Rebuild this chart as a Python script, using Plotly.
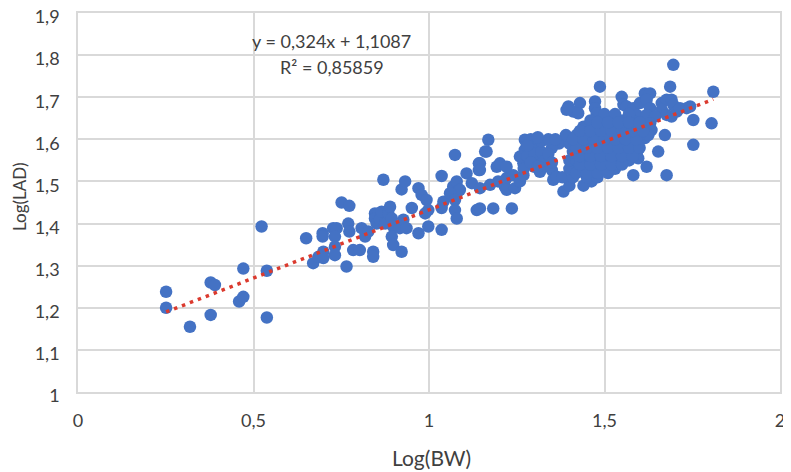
import plotly.graph_objects as go

# ---- data ----
bw = [
    0.251, 0.251, 0.319, 0.378, 0.378, 0.390, 0.459, 0.471, 0.471, 0.523, 0.538, 0.538, 0.650, 0.670,
    0.685, 0.699, 0.699, 0.697, 0.697, 0.727, 0.737, 0.732, 0.732, 0.732, 0.751, 0.773, 0.770, 0.773,
    0.765, 0.784, 0.803, 0.808, 0.818, 0.827, 0.841, 0.841,
    0.846, 0.846, 0.851, 0.860, 0.865, 0.875, 0.884, 0.889, 0.894, 0.898, 0.894, 0.898, 0.922, 0.917,
    0.927, 0.936, 0.951,
    0.870, 0.922, 0.932, 0.970, 0.979, 0.993, 0.998, 0.989, 0.970, 0.998,
    1.036, 1.041, 1.036, 1.036,
    1.069, 1.079, 1.079, 1.088, 1.060, 1.074, 1.074, 1.079, 1.074,
    1.107, 1.122, 1.136, 1.142, 1.142, 1.164, 1.169, 1.183, 1.193,
    1.160, 1.145, 1.236, 1.145, 1.174, 1.197, 1.221, 1.240, 1.216, 1.221, 1.245, 1.259, 1.269, 1.202,
    1.221, 1.145, 1.145, 1.273, 1.259, 1.273, 1.288, 1.269, 1.302, 1.311, 1.316, 1.335, 1.350, 1.354,
    1.364, 1.383,
    1.397, 1.411, 1.430, 1.425, 1.392, 1.473, 1.473, 1.478, 1.487, 1.549, 1.554,
    1.563, 1.582, 1.592, 1.601, 1.615, 1.630, 1.620, 1.630, 1.620,
    1.663, 1.677, 1.691, 1.696, 1.687, 1.696,
    1.663, 1.677, 1.691, 1.706, 1.715, 1.734, 1.744,
    1.753, 1.805, 1.810, 1.753, 1.672, 1.677, 1.653, 1.620, 1.592, 1.596, 1.615, 1.582, 1.549, 1.463,
    1.644, 1.630, 1.634, 1.625,
    1.40, 1.44,
    1.38, 1.41, 1.45, 1.48,
    1.40, 1.43, 1.46, 1.50, 1.53,
    1.40, 1.42, 1.45, 1.48, 1.51, 1.54, 1.57,
    1.41, 1.44, 1.47, 1.50, 1.53, 1.56,
    1.37, 1.40, 1.43, 1.46, 1.49, 1.52, 1.55, 1.58,
    1.39, 1.42, 1.45, 1.48, 1.51, 1.54, 1.57, 1.60,
    1.44, 1.47, 1.50, 1.53, 1.56, 1.59,
    1.46, 1.49, 1.52, 1.55, 1.58,
    1.50, 1.53, 1.57,
    1.28, 1.30, 1.32, 1.33, 1.29, 1.32, 1.35, 1.30, 1.34,
    1.42, 1.45, 1.48, 1.51,
    1.43, 1.46, 1.49, 1.52, 1.55,
    1.43, 1.46, 1.49, 1.52, 1.55, 1.58,
    1.42, 1.45, 1.48, 1.51, 1.54, 1.57, 1.60,
    1.41, 1.44, 1.47, 1.50, 1.53, 1.56, 1.59,
    1.43, 1.46, 1.49, 1.52, 1.55, 1.58, 1.61,
    1.48, 1.51, 1.54, 1.57, 1.60,
    1.27, 1.29, 1.31, 1.34, 1.36, 1.28, 1.31, 1.35,
]
lad = [
    1.238, 1.200, 1.155, 1.183, 1.260, 1.254, 1.215, 1.226, 1.293, 1.393, 1.288, 1.177, 1.365, 1.306,
    1.321, 1.333, 1.318, 1.377, 1.369, 1.389, 1.389, 1.369, 1.345, 1.325, 1.450, 1.442, 1.400, 1.381,
    1.298, 1.337, 1.337, 1.389, 1.369, 1.381, 1.333, 1.321,
    1.424, 1.412, 1.400, 1.409, 1.428, 1.400, 1.424, 1.440, 1.412, 1.393, 1.369, 1.349, 1.333, 1.389,
    1.409, 1.389, 1.437,
    1.504, 1.481, 1.500, 1.484, 1.468, 1.456, 1.432, 1.424, 1.377, 1.393,
    1.513, 1.452, 1.437, 1.385,
    1.488, 1.500, 1.472, 1.480, 1.472, 1.456, 1.432, 1.412, 1.563,
    1.519, 1.496, 1.432, 1.543, 1.527, 1.571, 1.599, 1.436, 1.535,
    1.571, 1.436, 1.436, 1.484, 1.492, 1.500, 1.508, 1.515, 1.488, 1.480, 1.484, 1.500, 1.515, 1.543,
    1.535, 1.543, 1.527, 1.599, 1.559, 1.575, 1.587, 1.543, 1.551, 1.579, 1.523, 1.539, 1.527, 1.504,
    1.511, 1.476,
    1.678, 1.666, 1.686, 1.662, 1.670, 1.690, 1.674, 1.662, 1.725, 1.701, 1.682,
    1.678, 1.674, 1.658, 1.686, 1.709, 1.709, 1.694, 1.674, 1.658,
    1.686, 1.694, 1.694, 1.682, 1.725, 1.777,
    1.670, 1.658, 1.654, 1.666, 1.674, 1.674, 1.678,
    1.646, 1.638, 1.713, 1.587, 1.610, 1.515, 1.571, 1.535, 1.563, 1.555, 1.603, 1.515, 1.543, 1.500,
    1.654, 1.638, 1.622, 1.610,
    1.49, 1.49,
    1.51, 1.51, 1.51, 1.51,
    1.53, 1.53, 1.53, 1.53, 1.53,
    1.55, 1.55, 1.55, 1.55, 1.55, 1.55, 1.55,
    1.57, 1.57, 1.57, 1.57, 1.57, 1.57,
    1.59, 1.59, 1.59, 1.59, 1.59, 1.59, 1.59, 1.59,
    1.61, 1.61, 1.61, 1.61, 1.61, 1.61, 1.61, 1.61,
    1.63, 1.63, 1.63, 1.63, 1.63, 1.63,
    1.645, 1.645, 1.645, 1.645, 1.645,
    1.66, 1.66, 1.66,
    1.56, 1.565, 1.57, 1.55, 1.60, 1.595, 1.58, 1.535, 1.60,
    1.52, 1.52, 1.52, 1.52,
    1.54, 1.54, 1.54, 1.54, 1.54,
    1.56, 1.56, 1.56, 1.56, 1.56, 1.56,
    1.58, 1.58, 1.58, 1.58, 1.58, 1.58, 1.58,
    1.60, 1.60, 1.60, 1.60, 1.60, 1.60, 1.60,
    1.62, 1.62, 1.62, 1.62, 1.62, 1.62, 1.62,
    1.64, 1.64, 1.64, 1.64, 1.64,
    1.53, 1.545, 1.535, 1.565, 1.60, 1.585, 1.605, 1.545,
]

slope = 0.324
intercept = 1.1087
r2 = 0.85859

x_tickvals = [0, 0.5, 1, 1.5, 2]
x_ticktext = ["0", "0,5", "1", "1,5", "2"]
y_tickvals = [1.0, 1.1, 1.2, 1.3, 1.4, 1.5, 1.6, 1.7, 1.8, 1.9]
y_ticktext = ["1", "1,1", "1,2", "1,3", "1,4", "1,5", "1,6", "1,7", "1,8", "1,9"]

FONT = "Lato, 'Open Sans', sans-serif"
TXT = "#404040"
GRID = "#d9d9d9"

x_lo, x_hi = min(bw), max(bw)
trend_x = [x_lo, x_hi]
trend_y = [slope * v + intercept for v in trend_x]

fig = go.Figure()
fig.add_trace(go.Scatter(
    x=bw, y=lad, mode="markers",
    marker=dict(size=12.5, color="#4472C4", line=dict(width=0)),
    hoverinfo="skip", showlegend=False,
))
fig.add_trace(go.Scatter(
    x=trend_x, y=trend_y, mode="lines",
    line=dict(color="#DB3A2E", width=3.5, dash="3.5px,5px"),
    hoverinfo="skip", showlegend=False,
))

eq = "y = " + f"{slope}".replace(".", ",") + "x + " + f"{intercept}".replace(".", ",")
r2txt = "R² = " + f"{r2}".replace(".", ",")

fig.update_layout(
    width=791, height=472,
    autosize=False,
    margin=dict(l=70, r=19, t=5, b=88, pad=0, autoexpand=False),
    paper_bgcolor="white", plot_bgcolor="white",
    font=dict(family=FONT, size=18, color=TXT),
    xaxis=dict(
        range=[0, 2], tickvals=x_tickvals, ticktext=x_ticktext,
        showgrid=True, gridcolor=GRID, gridwidth=1.5,
        showline=True, linecolor=GRID, linewidth=1.5, mirror=True,
        zeroline=False, ticks="", ticklabelstandoff=12, automargin=False,
        ticklabeloverflow="allow",
        tickfont=dict(family=FONT, size=18, color=TXT),
    ),
    yaxis=dict(
        range=[1, 1.9], tickvals=y_tickvals, ticktext=y_ticktext,
        showgrid=True, gridcolor=GRID, gridwidth=1.5,
        showline=True, linecolor=GRID, linewidth=1.5, mirror=True,
        zeroline=False, ticks="", ticklabelstandoff=13, ticklabelshift=4,
        automargin=False, ticklabeloverflow="allow",
        tickfont=dict(family=FONT, size=18, color=TXT),
    ),
    annotations=[
        dict(x=0.7236, y=1.8337, xref="x", yref="y", text=eq, showarrow=False,
             font=dict(family=FONT, size=18, color=TXT)),
        dict(x=0.7236, y=1.772, xref="x", yref="y", text=r2txt, showarrow=False,
             font=dict(family=FONT, size=18, color=TXT)),
        dict(x=0.503, y=-0.174, xref="paper", yref="paper", text="Log(BW)", showarrow=False,
             yanchor="middle", font=dict(family=FONT, size=21, color=TXT)),
        dict(x=-0.084, y=0.5145, xref="paper", yref="paper", text="Log(LAD)", showarrow=False,
             textangle=-90, xanchor="center", yanchor="middle", borderpad=0,
             font=dict(family=FONT, size=17, color=TXT)),
    ],
)

fig.write_html("out.html")
